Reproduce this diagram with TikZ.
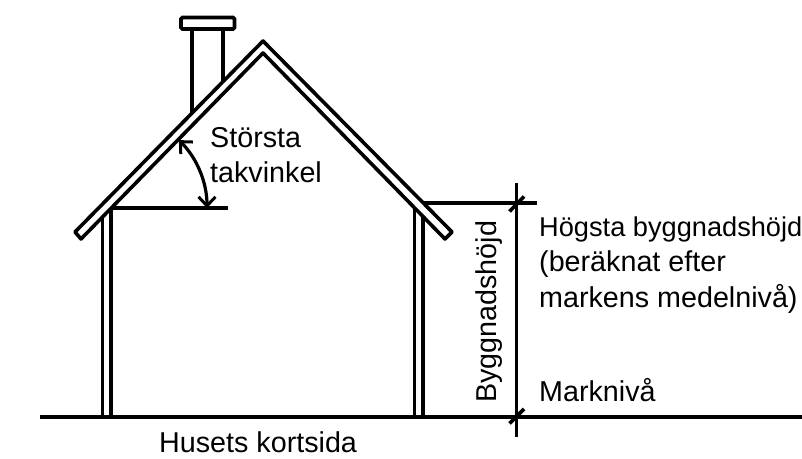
\documentclass[tikz,border=0pt]{standalone}
\usepackage{fontspec}
\setmainfont{Liberation Sans}
\usetikzlibrary{arrows.meta}
\tikzset{
  wall/.style={line width=4pt},
  thin wall/.style={line width=3.6pt},
  label/.style={inner sep=0pt, font=\fontsize{28.7pt}{33pt}\selectfont},
  angle arrow/.style={line width=3.2pt, {Straight Barb[length=9pt, width=17pt, line width=3pt]}-{Straight Barb[length=9pt, width=17pt, line width=3pt]}},
}
\begin{document}
\begin{tikzpicture}
\useasboundingbox (0, 0) rectangle (802pt, 458pt);
\coordinate (G) at (40pt, 41.5pt);
\coordinate (Gend) at (802pt, 41.5pt);
\coordinate (Apex) at (263pt, 417pt);
\draw [wall] (G) -- (Gend);
\draw [thin wall] (102.5pt, 41.5pt) coordinate (LW1) -- (102.5pt, 240.5pt);
\draw [thin wall] (111pt, 41.5pt) coordinate (LW2) -- (111pt, 250pt) coordinate (LE);
\draw [thin wall] (414.5pt, 41.5pt) coordinate (RW1) -- (414.5pt, 251pt);
\draw [thin wall] (423pt, 41.5pt) coordinate (RW2) -- (423pt, 241.5pt);
\draw [thin wall] (192pt, 345pt) -- (192pt, 429pt) coordinate (C1);
\draw [thin wall] (223pt, 377pt) -- (223pt, 429pt) coordinate (C2);
\draw [thin wall, fill=white, rounded corners=1.5pt] (181pt, 429pt) rectangle (234.5pt, 440.5pt);
\draw [thin wall, line join=round] (Apex) -- (75pt, 226pt) coordinate (A)
                   -- (81pt, 219pt) coordinate (B)
                   -- (263pt, 405pt) coordinate (Inner)
                   -- (445pt, 219pt) coordinate (C)
                   -- (452pt, 226pt) coordinate (D)
                   -- cycle;
\draw [thin wall] (LE) -- (227.5pt, 250pt);
\draw [wall] (423pt, 254.5pt) coordinate (RE) -- (537pt, 254.5pt);
\draw [thin wall] (516.5pt, 21.5pt) coordinate (Low) -- (516.5pt, 275pt) coordinate (High);
\draw [thin wall] (509.5pt, 34.5pt) -- (524pt, 49pt);
\draw [thin wall] (509.5pt, 246.5pt) -- (524pt, 261.5pt);
\draw [angle arrow] (207pt, 250pt) arc [start angle=0, end angle=45, radius=96pt];
\node [label, anchor=base west] (angle1) at (210pt, 310pt) {Största};
\node [label, anchor=base west] (angle2) at (210pt, 275pt) {takvinkel};
\node [label, anchor=base west, font=\fontsize{27.2pt}{33pt}\selectfont] (high1) at (539pt, 221.5pt) {Högsta byggnadshöjd};
\node [label, anchor=base west] (high2) at (539pt, 186.5pt) {(beräknat efter};
\node [label, anchor=base west] (high3) at (539pt, 151pt) {markens medelnivå)};
\node [label, anchor=base west] (ground) at (539pt, 57pt) {Marknivå};
\node [label, anchor=base west, rotate=90] (height) at (496pt, 55pt) {Byggnadshöjd};
\node [label, anchor=base west] (side) at (159pt, 5.5pt) {Husets kortsida};
\end{tikzpicture}
\end{document}
